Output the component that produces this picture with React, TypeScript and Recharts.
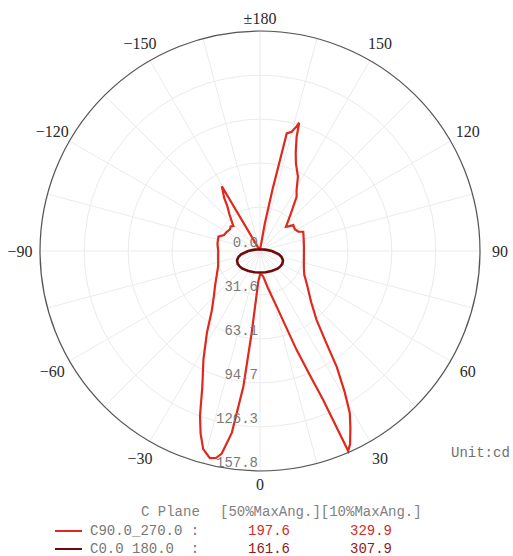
import { RadarChart, Radar, PolarGrid, PolarAngleAxis, PolarRadiusAxis } from 'recharts';

// polar geometry (px)
const CX = 260;
const CY = 251;
const R = 220;

// angle ticks every 15 deg, labels every 30 deg
const angleTicks = [-165, -150, -135, -120, -105, -90, -75, -60, -45, -30, -15, 0, 15, 30, 45, 60, 75, 90, 105, 120, 135, 150, 165, 180];
const fineTicks = Array.from({ length: 72 }, (_, i) => -175 + i * 5);

const radiusTicks = [0, 31.56, 63.13, 94.69, 126.26, 157.82];
const radiusTickLabels = ['0.0', '31.6', '63.1', '94.7', '126.3', '157.8'];

// C90.0_270.0 plane (cd), angle 0 = down, ±180 = up
const c90Angles = [-180, -170, -160, -155, -150.5, -149.5, -146, -144, -140, -136, -133, -130, -126, -120, -114, -109, -100, -90, -80, -70, -60, -52, -45, -39, -33, -27.5, -23, -20, -18, -16, -13.6, -12, -10.7, -8.8, -7, -5.8, -3.2, 0, 4, 7.3, 12, 16.7, 20.3, 22, 23, 23.8, 25, 27, 29, 31, 33.5, 36, 39.4, 45, 55, 62, 70, 80, 95.6, 105, 114, 116.7, 122, 128, 131, 133, 140, 146, 149, 153, 157.7, 160, 162.2, 163, 163.6, 165.1, 167.2, 167.5, 168.5, 170, 172, 176, 180];
const c90Values = [1, 1, 1.2, 1.5, 4, 54, 46, 40, 34, 29, 26.2, 27.5, 26.6, 27.5, 28.3, 31.6, 31, 30, 30.5, 32, 36, 41, 47, 55, 70, 88, 106, 126, 138, 148, 153, 152, 148, 132, 98, 59, 22, 17, 17, 18.6, 27, 41.7, 75.7, 98, 116, 157, 153, 143, 133, 118, 100, 80, 64, 52, 41, 36, 33.5, 32, 31.7, 32.5, 34, 30.8, 29.5, 30.3, 27, 25.5, 34, 47, 51, 60, 68, 75, 86, 96.3, 93.5, 88.6, 86.6, 70, 45, 20, 3, 1.2, 1];

// C0.0_180.0 plane (cd)
const c0Angles = [-180, -165, -150, -135, -120, -105, -100, -90, -80, -75, -68, -60, -52, -45, -30, -15, 0, 15, 30, 45, 52, 60, 68, 75, 80, 90, 100, 105, 120, 135, 150, 165, 180];
const c0Values = [1.1, 1.1, 1.2, 1.5, 2.1, 3.8, 4.7, 8.5, 13.8, 15.9, 17.8, 18.5, 18.3, 17.9, 16.6, 15.8, 15.4, 15.8, 16.6, 17.9, 18.3, 18.5, 17.8, 15.9, 13.8, 8.5, 4.7, 3.8, 2.1, 1.5, 1.2, 1.1, 1.1];

const c90Data = c90Angles.map((angle, i) => ({ angle, value: c90Values[i] }));
const c0Data = c0Angles.map((angle, i) => ({ angle, value: c0Values[i] }));

const RED = '#e0281c';
const DARK = '#6e0a0a';
const MONO = '"Liberation Mono", "DejaVu Sans Mono", monospace';

const AngleTick = (props: any) => {
  const v = props.payload.value;
  if (v % 30 !== 0) return <g />;
  const rad = (v * Math.PI) / 180;
  const r = v === 0 || v === 180 ? 233 : 240;
  const label = v === 180 ? '±180' : v < 0 ? `−${-v}` : `${v}`;
  return (
    <text
      x={CX + r * Math.sin(rad)}
      y={CY + r * Math.cos(rad)}
      textAnchor="middle"
      dominantBaseline="central"
      fill="#2a2a2a"
      fontFamily='"Liberation Serif", "DejaVu Serif", serif'
      fontSize={16}
    >
      {label}
    </text>
  );
};

const RadiusTick = (props: any) => (
  <text x={CX - 2} y={props.y - 8} textAnchor="end" dominantBaseline="central" fill="#7a7a7a" fontFamily={MONO} fontSize={14}>
    {radiusTickLabels[props.index]}
  </text>
);

const layer: React.CSSProperties = { position: 'absolute', left: 0, top: 0 };
const margin = { top: 0, right: 0, bottom: 0, left: 0 };

const textStyle = (x: number, y: number, color: string): React.CSSProperties => ({
  position: 'absolute',
  left: x,
  top: y - 8,
  lineHeight: '16px',
  fontFamily: MONO,
  fontSize: 14,
  color,
  whiteSpace: 'pre',
});

export default function App() {
  return (
    <div style={{ position: 'absolute', left: 0, top: 0, width: 513, height: 556, background: '#fff', overflow: 'hidden' }}>
      {/* fine spokes near the centre */}
      <div style={layer}>
        <RadarChart width={513} height={556} cx={CX} cy={CY} outerRadius={44} startAngle={-270} endAngle={90} data={c0Data} margin={margin}>
          <PolarGrid gridType="circle" stroke="#efefef" strokeWidth={0.8} />
          <PolarAngleAxis dataKey="angle" type="number" domain={[-180, 180]} ticks={fineTicks} tick={false} tickLine={false} axisLine={false} />
          <PolarRadiusAxis type="number" domain={[0, 31.56]} ticks={[31.56]} tick={false} axisLine={false} />
        </RadarChart>
      </div>

      <div style={layer}>
        <RadarChart width={513} height={556} cx={CX} cy={CY} outerRadius={R} startAngle={-270} endAngle={90} data={c90Data} margin={margin}>
          <PolarGrid gridType="circle" stroke="#ebebeb" strokeWidth={1} />
          <PolarAngleAxis
            dataKey="angle"
            type="number"
            domain={[-180, 180]}
            ticks={angleTicks}
            tick={<AngleTick />}
            tickLine={false}
            axisLineType="circle"
            axisLine={{ stroke: '#555', strokeWidth: 1.2 }}
          />
          <PolarRadiusAxis
            type="number"
            angle={-90}
            domain={[0, 157.82]}
            ticks={radiusTicks}
            tick={<RadiusTick />}
            axisLine={false}
            tickLine={false}
          />
          <Radar dataKey="value" stroke={RED} strokeWidth={2.2} fill="none" fillOpacity={0} dot={false} isAnimationActive={false} />
        </RadarChart>
      </div>

      <div style={layer}>
        <RadarChart width={513} height={556} cx={CX} cy={CY} outerRadius={R} startAngle={-270} endAngle={90} data={c0Data} margin={margin}>
          <PolarAngleAxis dataKey="angle" type="number" domain={[-180, 180]} ticks={angleTicks} tick={false} tickLine={false} axisLine={false} />
          <PolarRadiusAxis type="number" domain={[0, 157.82]} ticks={radiusTicks} tick={false} axisLine={false} />
          <Radar dataKey="value" stroke={DARK} strokeWidth={2.6} fill="none" fillOpacity={0} dot={false} isAnimationActive={false} />
        </RadarChart>
      </div>

      <div style={textStyle(451, 453, '#707070')}>Unit:cd</div>

      <div style={textStyle(141, 512, '#808080')}>C Plane</div>
      <div style={textStyle(220, 512, '#808080')}>[50%MaxAng.][10%MaxAng.]</div>

      <div style={{ position: 'absolute', left: 55, top: 530, width: 27, height: 1.5, background: RED }} />
      <div style={textStyle(90, 531, '#777')}>C90.0_270.0 :</div>
      <div style={textStyle(248, 531, '#d42a2a')}>197.6</div>
      <div style={textStyle(350, 531, '#d42a2a')}>329.9</div>

      <div style={{ position: 'absolute', left: 55, top: 548, width: 27, height: 1.5, background: DARK }} />
      <div style={textStyle(90, 549, '#777')}>C0.0 180.0  :</div>
      <div style={textStyle(248, 549, '#8b1c1c')}>161.6</div>
      <div style={textStyle(350, 549, '#8b1c1c')}>307.9</div>
    </div>
  );
}
